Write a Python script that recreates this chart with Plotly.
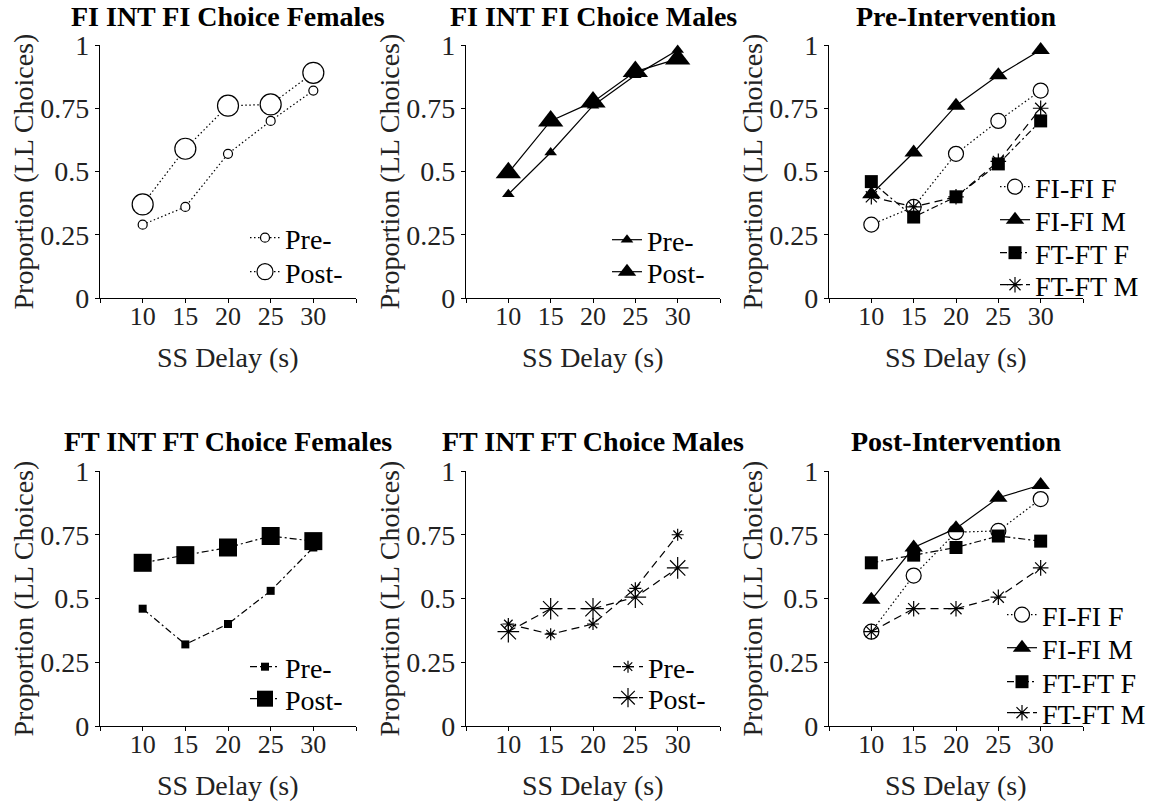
import plotly.graph_objects as go

W, H = 1154, 803
FONT = "Liberation Serif"

# ---------------- data ----------------
delays = [10, 15, 20, 25, 30]
x_tickvals = [5, 10, 15, 20, 25, 30, 35]
x_labelvals = [10, 15, 20, 25, 30]
x_labeltext = ["10", "15", "20", "25", "30"]
y_tickvals = [0, 0.25, 0.5, 0.75, 1]
y_ticktext = ["0", "0.25", "0.5", "0.75", "1"]

fi_f_pre = [0.29, 0.36, 0.57, 0.70, 0.82]
fi_f_post = [0.37, 0.59, 0.76, 0.765, 0.89]
fi_m_pre = [0.41, 0.575, 0.76, 0.88, 0.98]
fi_m_post = [0.495, 0.70, 0.775, 0.895, 0.945]
ft_f_pre = [0.46, 0.32, 0.40, 0.53, 0.70]
ft_f_post = [0.64, 0.67, 0.70, 0.745, 0.725]
ft_m_pre = [0.40, 0.36, 0.40, 0.54, 0.75]
ft_m_post = [0.37, 0.46, 0.46, 0.505, 0.62]

titles = ["FI INT FI Choice Females", "FI INT FI Choice Males", "Pre-Intervention",
          "FT INT FT Choice Females", "FT INT FT Choice Males", "Post-Intervention"]
x_title = "SS Delay (s)"
y_title = "Proportion (LL Choices)"

# ---------------- layout geometry (pixels) ----------------
col_px = [(100, 356), (466, 720), (829, 1083)]
row_px = [(45, 298), (471, 726)]
title_gap = [28, 30]

def px_x(p):
    return p / W

def px_y(p):
    return 1 - p / H

styles = {
    "circle": dict(symbol="circle", color="white", line=dict(color="black", width=1.2), dash="1.5px,2.5px"),
    "triangle": dict(symbol="triangle-up", color="black", line=dict(color="black", width=0), dash="solid"),
    "square": dict(symbol="square", color="black", line=dict(color="black", width=0), dash="7px,3px,2px,3px"),
    "asterisk": dict(symbol="asterisk-open", color="black", line=dict(color="black", width=1.2), dash="8px,5px"),
}

# panel: list of (name, values, style, size, legend text x, legend y)
panels = [
    [("Pre-", fi_f_pre, "circle", 9, 285, 238), ("Post-", fi_f_post, "circle", 21, 285, 272)],
    [("Pre-", fi_m_pre, "triangle", 11, 647, 240), ("Post-", fi_m_post, "triangle", 22, 647, 272)],
    [("FI-FI F", fi_f_pre, "circle", 15, 1035, 187), ("FI-FI M", fi_m_pre, "triangle", 16, 1035, 220),
     ("FT-FT F", ft_f_pre, "square", 13, 1035, 253), ("FT-FT M", ft_m_pre, "asterisk", 13, 1035, 285)],
    [("Pre-", ft_f_pre, "square", 8, 285, 667), ("Post-", ft_f_post, "square", 18, 285, 699)],
    [("Pre-", ft_m_pre, "asterisk", 10, 648, 667), ("Post-", ft_m_post, "asterisk", 18, 648, 698)],
    [("FI-FI F", fi_f_post, "circle", 15, 1042, 615), ("FI-FI M", fi_m_post, "triangle", 16, 1042, 648),
     ("FT-FT F", ft_f_post, "square", 13, 1042, 682), ("FT-FT M", ft_m_post, "asterisk", 13, 1042, 713)],
]

fig = go.Figure()
layout = dict(template="none", width=W, height=H, margin=dict(l=0, r=0, t=0, b=0, pad=0, autoexpand=False),
              paper_bgcolor="white", plot_bgcolor="rgba(0,0,0,0)",
              font=dict(family=FONT, color="black", size=26),
              showlegend=True)
annotations = []
legend_count = 0

for i, traces in enumerate(panels):
    r, c = divmod(i, 3)
    x0, x1 = col_px[c]
    y0, y1 = row_px[r]
    sfx = "" if i == 0 else str(i + 1)
    lab = str(i + 7)
    # main axis: line + short ticks, no labels
    layout["xaxis" + sfx] = dict(
        domain=[px_x(x0), px_x(x1)], range=[5, 35], anchor="y" + sfx,
        tickvals=x_tickvals, ticks="outside", ticklen=4, showticklabels=False,
        tickwidth=1, tickcolor="black", showline=True, linecolor="black", linewidth=1.2,
        showgrid=False, zeroline=False, automargin=False,
    )
    # overlay axis carrying the tick labels only
    layout["xaxis" + lab] = dict(
        overlaying="x" + sfx, anchor="y" + sfx, range=[5, 35], side="bottom",
        tickvals=x_labelvals, ticktext=x_labeltext, ticks="", showline=False,
        showgrid=False, zeroline=False, automargin=False,
        tickfont=dict(family=FONT, size=26, color="#222"),
    )
    layout["yaxis" + sfx] = dict(
        domain=[px_y(y1), px_y(y0)], range=[0, 1], anchor="x" + sfx,
        tickvals=y_tickvals, ticktext=y_ticktext, ticks="outside", ticklen=4,
        tickwidth=1, tickcolor="black", showline=True, linecolor="black", linewidth=1.2,
        showgrid=False, zeroline=False, automargin=False,
        tickfont=dict(family=FONT, size=28, color="#222"),
    )
    annotations.append(dict(text="<b>" + titles[i] + "</b>", x=px_x((x0 + x1) / 2),
                            y=px_y(y0 - title_gap[r]), xref="paper", yref="paper", showarrow=False,
                            xanchor="center", yanchor="middle",
                            font=dict(family=FONT, size=28, color="black")))
    annotations.append(dict(text=x_title, x=px_x((x0 + x1) / 2), y=px_y(y1 + 59),
                            xref="paper", yref="paper", showarrow=False,
                            xanchor="center", yanchor="middle",
                            font=dict(family=FONT, size=28, color="#222")))
    annotations.append(dict(text=y_title, x=px_x(x0 - 77), y=px_y((y0 + y1) / 2),
                            xref="paper", yref="paper", showarrow=False, textangle=-90,
                            xanchor="center", yanchor="middle",
                            font=dict(family=FONT, size=28, color="#222")))
    # invisible trace to activate the label axis
    fig.add_trace(go.Scatter(x=[delays[0]], y=[None], xaxis="x" + lab, yaxis="y" + sfx,
                             showlegend=False, hoverinfo="skip", mode="markers"))
    for name, vals, st, size, lx, ly in traces:
        s = styles[st]
        legend_count += 1
        lid = "legend" if legend_count == 1 else "legend" + str(legend_count)
        fig.add_trace(go.Scatter(
            x=delays, y=vals, name=name, mode="lines+markers",
            xaxis="x" + sfx, yaxis="y" + sfx, cliponaxis=False,
            line=dict(color="black", width=1.2, dash=s["dash"]),
            marker=dict(symbol=s["symbol"], size=size, color=s["color"], line=s["line"]),
            legend=lid,
        ))
        layout[lid] = dict(x=px_x(lx - 40), y=px_y(ly), xanchor="left", yanchor="middle",
                           bgcolor="rgba(0,0,0,0)", borderwidth=0,
                           font=dict(family=FONT, size=28, color="black"),
                           itemsizing="trace", tracegroupgap=0)

layout["annotations"] = annotations
fig.update_layout(**layout)
fig.write_html("out.html")
